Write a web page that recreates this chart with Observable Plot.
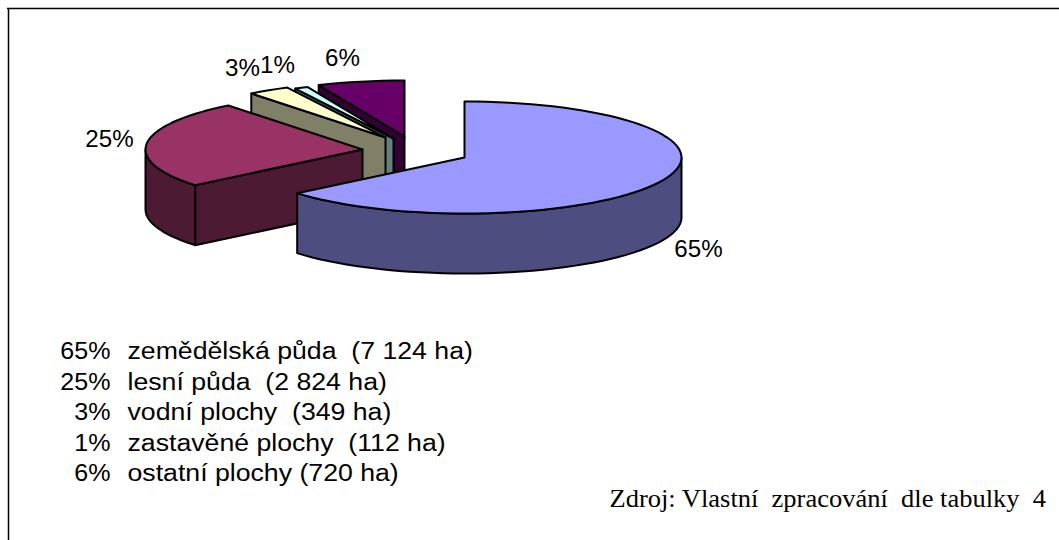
<!DOCTYPE html>
<html>
<head>
<meta charset="utf-8">
<script src="https://cdn.jsdelivr.net/npm/d3@7"></script>
<script src="https://cdn.jsdelivr.net/npm/@observablehq/plot@0.6"></script>
<style>html,body{margin:0;padding:0;background:#fff}svg{display:block}</style>
</head>
<body>
<div id="chart"></div>
<script>
const categories = ["zemědělská půda", "lesní půda", "vodní plochy", "zastavěné plochy", "ostatní plochy"];
const hectares = [7124, 2824, 349, 112, 720];
const percents = [65, 25, 3, 1, 6];
const legendSuffix = ["  (7 124 ha)", "  (2 824 ha)", "  (349 ha)", "  (112 ha)", " (720 ha)"];
const topColors = ["#9999ff", "#993366", "#ffffcc", "#ccffff", "#660066"];
const sideColors = ["#4d4d80", "#4d1a33", "#808066", "#668080", "#330033"];
const apexX = [464, 362, 385, 393, 404];
const apexY = [157, 149, 137, 138, 136];
const labelX = [698, 109, 242, 277, 342];
const labelY = [249, 139, 68, 65, 58];
const legendY = [351, 382, 412, 443, 473];
const sourceText = "Zdroj: Vlastní  zpracování  dle tabulky  4";

const rx = 217, ry = 56, depth = 60;
const total = d3.sum(hectares);
const polys = [];
let angle = 0;
const spans = hectares.map(v => { const a = angle; angle += v / total * 360; return [a, angle]; });
const pt = (i, deg, dz = 0) => {
  const r = deg * Math.PI / 180;
  return {x: apexX[i] + rx * Math.sin(r), y: apexY[i] - ry * Math.cos(r) + dz};
};
const arc = (i, a, b, dz = 0) => {
  const n = Math.max(1, Math.ceil((b - a) / 3)), out = [];
  for (let k = 0; k <= n; k++) out.push(pt(i, a + (b - a) * k / n, dz));
  return out;
};
const add = (id, color, points) => points.forEach(p => polys.push({...p, id, color}));
for (let i = hectares.length - 1; i >= 0; i--) {
  const [a, b] = spans[i];
  const apex = {x: apexX[i], y: apexY[i]};
  if (a > 180) {
    const s = pt(i, a), e = pt(i, a, depth);
    add(`r${i}`, sideColors[i], [apex, s, e, {x: apex.x, y: apex.y + depth}]);
  }
  const ra = Math.max(a, 90), rb = Math.min(b, 270);
  if (rb > ra) {
    add(`s${i}`, sideColors[i], [...arc(i, ra, rb), ...arc(i, ra, rb, depth).reverse()]);
  }
  add(`t${i}`, topColors[i], [apex, ...arc(i, a, b)]);
}

// The reference's lettering is stretched sideways: widen each text about its anchor.
const widen = k => (index, scales, values, dims, ctx, next) => {
  const g = next(index, scales, values, dims, ctx);
  d3.select(g).selectAll("text").attr("transform", function () {
    return `${this.getAttribute("transform")} scale(${k},1)`;
  });
  return g;
};

const sans = "Liberation Sans";
const serif = "Liberation Serif";
const plot = Plot.plot({
  width: 1059, height: 540, margin: 0,
  x: {axis: null, domain: [0, 1059], range: [0, 1059]},
  y: {axis: null, domain: [0, 540], range: [0, 540]},
  color: {type: "identity"},
  marks: [
    Plot.ruleX([8], {y1: 8, y2: 540, stroke: "#000", strokeWidth: 1.5}),
    Plot.ruleY([8], {x1: 7, x2: 1059, stroke: "#000", strokeWidth: 1.5}),
    Plot.line(polys, {x: "x", y: "y", z: "id", fill: "color", stroke: "#000", strokeWidth: 2, curve: "linear-closed"}),
    Plot.text(percents, {x: (d, i) => labelX[i], y: (d, i) => labelY[i], text: d => `${d}%`, fontFamily: sans, fontSize: 23, fill: "#000", textAnchor: "middle", render: widen(1.05)}),
    Plot.text(percents, {x: () => 110, y: (d, i) => legendY[i], text: d => `${d}%`, fontFamily: sans, fontSize: 23, fill: "#000", textAnchor: "end", render: widen(1.09)}),
    Plot.text(categories, {x: () => 127, y: (d, i) => legendY[i], text: (d, i) => d + legendSuffix[i], fontFamily: sans, fontSize: 23, fill: "#000", textAnchor: "start", render: widen(1.16)}),
    Plot.text([sourceText], {x: () => 609, y: () => 498, text: d => d, fontFamily: serif, fontSize: 25, fill: "#000", textAnchor: "start", render: widen(1.06)})
  ]
});
document.getElementById("chart").append(plot);
</script>
</body>
</html>
